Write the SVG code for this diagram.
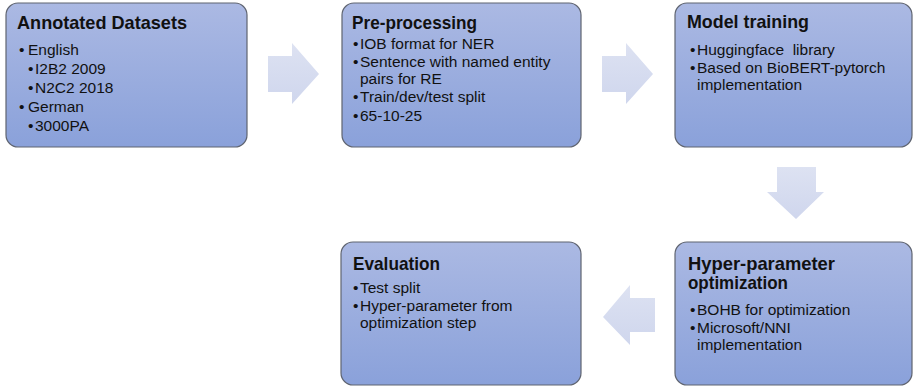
<svg xmlns="http://www.w3.org/2000/svg" width="915" height="387" viewBox="0 0 915 387">
  <defs>
    <linearGradient id="boxFill" x1="0" y1="0" x2="0" y2="1">
      <stop offset="0" stop-color="#abb9e3"/>
      <stop offset="1" stop-color="#8aa1da"/>
    </linearGradient>
    <linearGradient id="arrowFill" x1="0" y1="0" x2="0" y2="1">
      <stop offset="0" stop-color="#dde2f2"/>
      <stop offset="1" stop-color="#cfd6ed"/>
    </linearGradient>
    <style>
      .box { fill: url(#boxFill); stroke: #5f6470; stroke-width: 1.2; }
      .arrow { fill: url(#arrowFill); stroke: none; }
      .title { font-family: "Liberation Sans", Arial, sans-serif; font-weight: bold; font-size: 18.5px; fill: #111; }
      .item { font-family: "Liberation Sans", Arial, sans-serif; font-size: 15.5px; fill: #111; }
    </style>
  </defs>
  <rect width="915" height="387" fill="#ffffff"/>

  <g id="connectors">
    <polygon class="arrow" points="268,56 292,56 292,43 319,74 292,104 292,92 268,92"/>
    <polygon class="arrow" points="602,56 626,56 626,43 653,74 626,104 626,92 602,92"/>
    <polygon class="arrow" points="777,167 816,167 816,192 824,192 796,219 767,192 777,192"/>
    <polygon class="arrow" points="655,298 630,298 630,285 603,317 630,345 630,332 655,332"/>
  </g>

  <g id="annotated-datasets">
    <rect class="box" x="6" y="3" width="241" height="144" rx="12"/>
    <text class="title" x="17" y="29" textLength="170" lengthAdjust="spacingAndGlyphs">Annotated Datasets</text>
    <text class="item" x="19" y="55">•</text><text class="item" x="28" y="55">English</text>
    <text class="item" x="28" y="74">•</text><text class="item" x="35" y="74">I2B2 2009</text>
    <text class="item" x="28" y="93">•</text><text class="item" x="35" y="93">N2C2 2018</text>
    <text class="item" x="19" y="112">•</text><text class="item" x="28" y="112">German</text>
    <text class="item" x="28" y="131">•</text><text class="item" x="35" y="131">3000PA</text>
  </g>

  <g id="pre-processing">
    <rect class="box" x="342" y="3" width="239" height="144" rx="12"/>
    <text class="title" x="352" y="29" textLength="125" lengthAdjust="spacingAndGlyphs">Pre-processing</text>
    <text class="item" x="353" y="49">•</text><text class="item" x="360" y="49">IOB format for NER</text>
    <text class="item" x="353" y="67">•</text><text class="item" x="360" y="67">Sentence with named entity</text>
    <text class="item" x="360" y="84">pairs for RE</text>
    <text class="item" x="353" y="102">•</text><text class="item" x="360" y="102">Train/dev/test split</text>
    <text class="item" x="353" y="121">•</text><text class="item" x="360" y="121">65-10-25</text>
  </g>

  <g id="model-training">
    <rect class="box" x="675" y="3" width="237" height="144" rx="12"/>
    <text class="title" x="687" y="28" textLength="122" lengthAdjust="spacingAndGlyphs">Model training</text>
    <text class="item" x="690" y="55">•</text><text class="item" x="697" y="55" xml:space="preserve">Huggingface  library</text>
    <text class="item" x="690" y="73">•</text><text class="item" x="697" y="73">Based on BioBERT-pytorch</text>
    <text class="item" x="697" y="90">implementation</text>
  </g>

  <g id="hyper-parameter-optimization">
    <rect class="box" x="675" y="242" width="237" height="143" rx="12"/>
    <text class="title" x="688" y="270" textLength="147" lengthAdjust="spacingAndGlyphs">Hyper-parameter</text>
    <text class="title" x="688" y="289" textLength="100" lengthAdjust="spacingAndGlyphs">optimization</text>
    <text class="item" x="690" y="315">•</text><text class="item" x="697" y="315">BOHB for optimization</text>
    <text class="item" x="690" y="333">•</text><text class="item" x="697" y="333">Microsoft/NNI</text>
    <text class="item" x="697" y="350">implementation</text>
  </g>

  <g id="evaluation">
    <rect class="box" x="341" y="242" width="240" height="143" rx="12"/>
    <text class="title" x="353" y="270" textLength="87" lengthAdjust="spacingAndGlyphs">Evaluation</text>
    <text class="item" x="353" y="293">•</text><text class="item" x="360" y="293">Test split</text>
    <text class="item" x="353" y="311">•</text><text class="item" x="360" y="311">Hyper-parameter from</text>
    <text class="item" x="360" y="328">optimization step</text>
  </g>
</svg>
